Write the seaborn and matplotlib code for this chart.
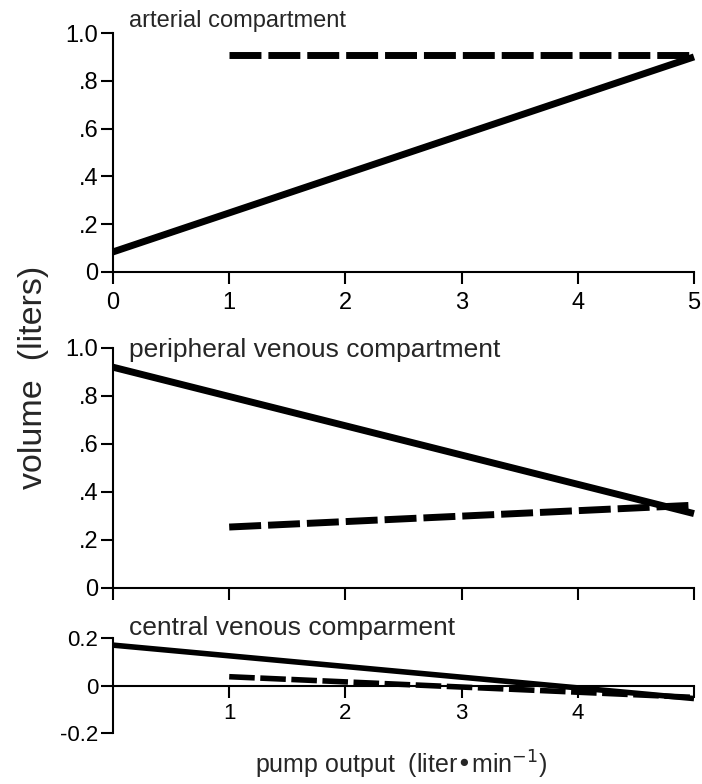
import pandas as pd
import numpy as np
import matplotlib
matplotlib.use("Agg")
import matplotlib.pyplot as plt
import seaborn as sns

# pump output (liter/min) at line endpoints
flow_solid = [0, 5]
flow_dashed = [1, 5]

# volumes (liters)
arterial_solid = [0.084, 0.90]
arterial_dashed = [0.91, 0.91]
peripheral_solid = [0.92, 0.31]
peripheral_dashed = [0.254, 0.345]
central_solid = [0.17, -0.055]
central_dashed = [0.037, -0.05]

titles = ["arterial compartment", "peripheral venous compartment", "central venous comparment"]

sns.set_style("ticks")
plt.rcParams['font.family'] = ['Liberation Sans', 'DejaVu Sans']

fig = plt.figure(figsize=(7.02, 7.84), dpi=100)
left, width = 113 / 702, 581 / 702
ax_top = fig.add_axes([left, 1 - 272 / 784, width, 239 / 784])
ax_mid = fig.add_axes([left, 1 - 588 / 784, width, 240 / 784])
ax_bot = fig.add_axes([left, 1 - 733 / 784, width, 95 / 784])

panels = [
    (ax_top, arterial_solid, arterial_dashed, 5.0, 17),
    (ax_mid, peripheral_solid, peripheral_dashed, 5.0, 17),
    (ax_bot, central_solid, central_dashed, 4.0, 16),
]

for ax, solid, dashed, lw, fs in panels:
    df_s = pd.DataFrame({"x": flow_solid, "y": solid})
    df_d = pd.DataFrame({"x": flow_dashed, "y": dashed})
    sns.lineplot(data=df_s, x="x", y="y", ax=ax, color="black", lw=lw,
                 solid_capstyle="butt", clip_on=False)
    sns.lineplot(data=df_d, x="x", y="y", ax=ax, color="black", lw=lw,
                 dashes=False, clip_on=False).lines[-1].set_dashes((4.6, 1.0))
    ax.lines[-1].set_dash_capstyle("butt")
    ax.set_xlim(0, 5)
    ax.set_xlabel("")
    ax.set_ylabel("")
    for s in ["top", "right"]:
        ax.spines[s].set_visible(False)
    for s in ["left", "bottom"]:
        ax.spines[s].set_linewidth(1.5)
        ax.spines[s].set_color("black")
    ax.tick_params(axis="both", length=8.5, width=1.5, color="black",
                   labelsize=fs, labelcolor="black")
    ax.tick_params(axis="y", pad=2)
    ax.tick_params(axis="x", pad=6)

yt = [0, 0.2, 0.4, 0.6, 0.8, 1.0]
ylab = ["0", ".2", ".4", ".6", ".8", "1.0"]
for ax in [ax_top, ax_mid]:
    ax.set_ylim(0, 1.0)
    ax.set_yticks(yt)
    ax.set_yticklabels(ylab)
    ax.set_xticks([0, 1, 2, 3, 4, 5])

ax_top.set_xticklabels(["0", "1", "2", "3", "4", "5"])
ax_mid.set_xticklabels([])

ax_bot.set_ylim(-0.2, 0.2)
ax_bot.set_yticks([-0.2, 0, 0.2])
ax_bot.set_yticklabels(["-0.2", "0", "0.2"])
ax_bot.spines["bottom"].set_position(("data", 0))
ax_bot.set_xticks([1, 2, 3, 4, 5])
ax_bot.set_xticklabels(["1", "2", "3", "4", ""])
ax_bot.tick_params(axis="x", pad=4)

title_base = [27, 357, 635]
title_size = [17, 19, 19]
for t, ty, ts in zip(titles, title_base, title_size):
    fig.text(129 / 702, 1 - ty / 784, t, fontsize=ts, ha="left", va="baseline")

fig.text(34 / 702, 1 - 377 / 784, "volume  (liters)", fontsize=24.5, rotation=90,
         ha="center", va="center")
fig.text(401 / 702, 1 - 765 / 784, "pump output  (liter\u2022min$^{\\mathsf{-1}}$)", fontsize=18,
         ha="center", va="center")

fig.savefig("out.png", dpi=100)
